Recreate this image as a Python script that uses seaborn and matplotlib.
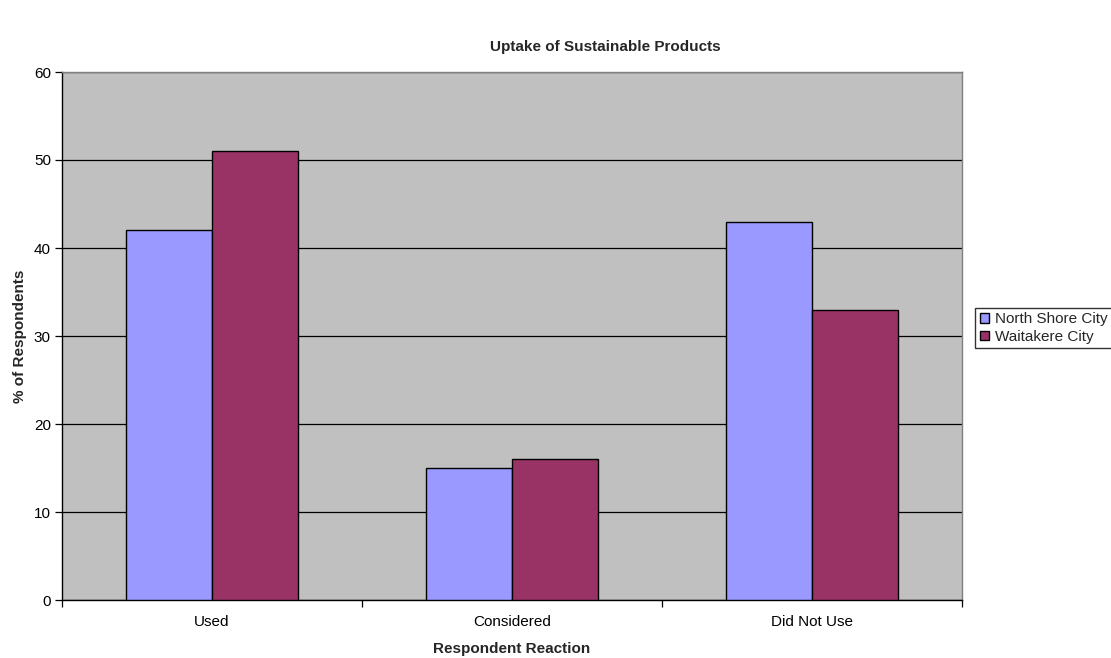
import matplotlib
matplotlib.use("Agg")
import matplotlib.pyplot as plt
import seaborn as sns
import pandas as pd

categories = ["Used", "Considered", "Did Not Use"]
north_shore = [42, 15, 43]
waitakere = [51, 16, 33]
series_names = ["North Shore City", "Waitakere City"]
y_ticks = [0, 10, 20, 30, 40, 50, 60]

df = pd.DataFrame({
    "Reaction": categories * 2,
    "City": [series_names[0]] * 3 + [series_names[1]] * 3,
    "Value": north_shore + waitakere,
})

sns.set_theme(style="white")
plt.rcParams["font.family"] = ["Liberation Sans", "DejaVu Sans"]

fig = plt.figure(figsize=(11.11, 6.58), dpi=100)
ax = fig.add_axes([62 / 1111, 1 - 600 / 658, 900 / 1111, 528 / 658])
ax.set_facecolor("#C0C0C0")

sns.barplot(data=df, x="Reaction", y="Value", hue="City", order=categories,
            hue_order=series_names, palette=["#9999FF", "#993366"], saturation=1,
            width=0.573, edgecolor="black", linewidth=1.0, ax=ax,
            legend=True, zorder=3)

ax.set_ylim(0, 60)
ax.set_xlim(-0.5, 2.5)
ax.set_yticks(y_ticks)
ax.set_yticklabels([str(v) for v in y_ticks], fontsize=11, color="black")
ax.yaxis.grid(True, color="black", linewidth=0.9, zorder=1)
ax.set_axisbelow(True)

# category labels centered, ticks at boundaries
ax.set_xticks([0, 1, 2])
ax.set_xticklabels(categories, fontsize=11, color="black")
ax.tick_params(axis="x", length=0, pad=11)
ax.set_xticks([-0.5, 0.5, 1.5, 2.5], minor=True)
ax.tick_params(axis="x", which="minor", length=5, width=0.9, color="black", direction="out", bottom=True)
ax.tick_params(axis="y", length=5, width=0.9, color="black", direction="out", left=True, pad=3)

for side in ["top", "right"]:
    ax.spines[side].set_color("#808080")
    ax.spines[side].set_linewidth(1.0)
for side in ["left", "bottom"]:
    ax.spines[side].set_color("black")
    ax.spines[side].set_linewidth(1.0)

ax.set_xlabel("Respondent Reaction", fontsize=11, fontweight="bold", labelpad=9)
ax.set_ylabel("% of Respondents", fontsize=11, fontweight="bold", labelpad=5)
fig.text(605 / 1111, 1 - 47 / 658, "Uptake of Sustainable Products", fontsize=11,
         fontweight="bold", ha="center", va="center")

handles, labels = ax.get_legend_handles_labels()
ax.get_legend().remove()
leg = fig.legend(handles, labels, loc="center left", bbox_to_anchor=(975 / 1111, 1 - 328 / 658),
                 fontsize=11, frameon=True, fancybox=False, handlelength=0.6, handleheight=0.6,
                 handletextpad=0.4, borderpad=0.3, labelspacing=0.25, borderaxespad=0)
leg.get_frame().set_edgecolor("black")
leg.get_frame().set_linewidth(1.0)

fig.savefig("out.png", dpi=100)
